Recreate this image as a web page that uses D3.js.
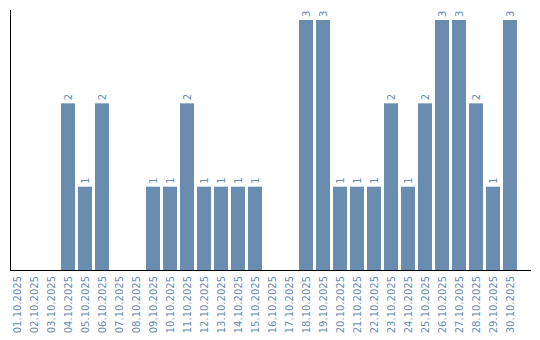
<!DOCTYPE html>
<html>
<head>
<meta charset="utf-8">
<script src="https://cdn.jsdelivr.net/npm/d3@7"></script>
<style>
  body { margin: 0; background: #fff; }
  svg { display: block; font-family: "DejaVu Sans", sans-serif; }
</style>
</head>
<body>
<svg width="540" height="340"></svg>
<script>
var days = ['01.10.2025', '02.10.2025', '03.10.2025', '04.10.2025', '05.10.2025', '06.10.2025',
    '07.10.2025', '08.10.2025', '09.10.2025', '10.10.2025', '11.10.2025', '12.10.2025',
    '13.10.2025', '14.10.2025', '15.10.2025', '16.10.2025', '17.10.2025', '18.10.2025',
    '19.10.2025', '20.10.2025', '21.10.2025', '22.10.2025', '23.10.2025', '24.10.2025',
    '25.10.2025', '26.10.2025', '27.10.2025', '28.10.2025', '29.10.2025', '30.10.2025'];
var counts = [0, 0, 0, 2, 1, 2, 0, 0, 1, 1, 2, 1, 1, 1, 1, 0, 0, 3, 3, 1, 1, 1, 2, 1, 2, 3, 3, 2, 1, 3];

var barColor = '#6a8caf';
var svg = d3.select('svg');

var xScale = d3.scaleBand()
    .domain(days)
    .range([10, 517])
    .paddingInner(3 / 17)
    .paddingOuter(0);

var yScale = d3.scaleLinear()
    .domain([0, 3])
    .range([270, 20]);

var data = days.map(function(d, i) { return { day: d, value: counts[i] }; });

// bars (skip zeros)
svg.selectAll('.bar')
    .data(data.filter(function(d) { return d.value > 0; }))
    .enter().append('rect')
    .attr('class', 'bar')
    .attr('x', function(d) { return xScale(d.day); })
    .attr('y', function(d) { return yScale(d.value); })
    .attr('width', xScale.bandwidth())
    .attr('height', function(d) { return yScale(0) - yScale(d.value); })
    .attr('fill', barColor);

// value labels
svg.selectAll('.val')
    .data(data.filter(function(d) { return d.value > 0; }))
    .enter().append('text')
    .attr('class', 'val')
    .attr('transform', function(d) {
        return 'translate(' + (xScale(d.day) + xScale.bandwidth() / 2) + ',' + (yScale(d.value) - 3) + ') rotate(-90)';
    })
    .attr('dy', '0.35em')
    .attr('font-size', 10)
    .attr('fill', barColor)
    .text(function(d) { return d.value; });

// x axis tick labels
var xAxisG = svg.append('g')
    .attr('transform', 'translate(0,270)')
    .call(d3.axisBottom(xScale).tickSize(0).tickPadding(0));
xAxisG.select('.domain').remove();
xAxisG.selectAll('text')
    .attr('font-family', '"DejaVu Sans", sans-serif')
    .attr('font-size', 10)
    .attr('fill', barColor)
    .attr('text-anchor', 'end')
    .attr('y', 0)
    .attr('dy', '0.35em')
    .attr('transform', 'translate(0,6) rotate(-90)');

// axis lines
svg.append('line')
    .attr('x1', 10.5).attr('x2', 10.5)
    .attr('y1', 10).attr('y2', 270)
    .attr('stroke', '#000');
svg.append('line')
    .attr('x1', 10).attr('x2', 531)
    .attr('y1', 270.5).attr('y2', 270.5)
    .attr('stroke', '#000');
</script>
</body>
</html>
